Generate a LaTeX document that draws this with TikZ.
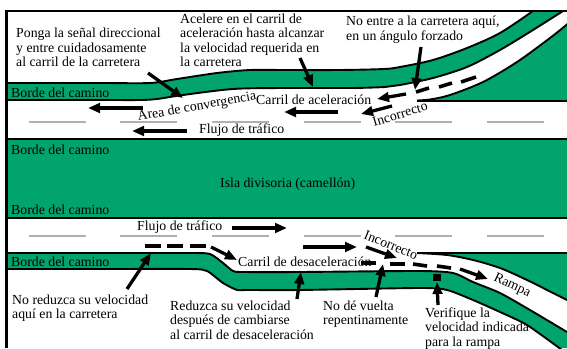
\documentclass[tikz,border=0pt]{standalone}
\usepackage{fontspec}
\setmainfont{Liberation Serif}
\usetikzlibrary{arrows.meta}
\definecolor{roadgreen}{HTML}{00A46C}
\definecolor{lanegray}{HTML}{B0B0B0}
\tikzset{
  txt/.style={anchor=north west,inner sep=0pt,align=left,font=\fontsize{13.8}{14.5}\selectfont},
  lab/.style={inner sep=0pt,font=\fontsize{13.8}{14.5}\selectfont},
  edge/.style={line width=1.9pt,black},
  lane/.style={line width=1.9pt,lanegray},
  arr/.style={line width=3.3pt,-{Triangle[length=12pt,width=9.5pt]},black},
  dsh/.style={line width=3.6pt,black},
}
\newcommand{\TopOuter}{plot[smooth,tension=0.5] coordinates {(6,83)(100,83)(150,83)(177,79)(217,73)(250,70)(284,70)(340,70)(384,69)(400,67)(433,60)(467,48)(500,33)(533,11)}}
\newcommand{\TopInner}{plot[smooth,tension=0.5] coordinates {(6,100)(100,100)(140,100)(157,99)(183,95)(233,89)(283,88)(351,88)(385,87)(400,85)(433,78)(467,67)(500,50)(533,30)(563,11)}}
\newcommand{\TopRamp}{plot[smooth,tension=0.5] coordinates {(417,100.5)(430,99.5)(450,95)(483,82)(517,62)(550,38)(570,22)}}
\newcommand{\LowUpper}{plot[smooth,tension=0.4] coordinates {(6,253)(100,253)(190,253)(210,254)(223,263)(233,271)(243,272)(300,272)(420,271)(453,273)(473,282)(500,293)(530,310)(567,332)}}
\newcommand{\LowLower}{plot[smooth,tension=0.4] coordinates {(6,269)(100,269)(190,269)(207,271)(223,283)(237,290)(247,290)(300,290)(420,288)(447,290)(473,300)(500,312)(527,325)(562,350)}}
\newcommand{\ExitEdge}{plot[smooth,tension=0.5] coordinates {(417,253)(447,255)(473,260)(500,268)(527,280)(553,293)(567,300)}}
\begin{document}
\begin{tikzpicture}[x=1pt,y=-1pt]
\clip (0,0) rectangle (567,348);
\fill[white] (0,0) rectangle (567,348);
% upper road
\fill[roadgreen] \TopOuter -- (567,11) -- (567,139) -- (6,139) -- cycle;
\fill[white] \TopInner -- (567,11) -- (567,139) -- (6,139) -- cycle;
\fill[roadgreen] \TopRamp -- (570,101) -- (417,101) -- cycle;
\draw[edge] \TopOuter;
\draw[edge] \TopInner;
\draw[edge] \TopRamp;
\draw[edge] (417,101) -- (567,101);
% island
\fill[roadgreen] (6,139) rectangle (567,218);
\draw[edge] (6,139) -- (567,139);
\draw[edge] (6,218) -- (567,218);
% lower road
\fill[roadgreen] \LowUpper -- (567,348) -- (6,348) -- cycle;
\fill[white] \LowLower -- (6,350) -- cycle;
\fill[roadgreen] \ExitEdge -- (567,253) -- cycle;
\draw[edge] \LowUpper;
\draw[edge] \LowLower;
\draw[edge] \ExitEdge;
\draw[edge] (417,253) -- (567,253);
% frame
\draw[line width=2.2pt,black] (6.5,348) -- (6.5,11) -- (567,11);
% lane markings
\foreach \y in {122,236}{
  \foreach \a/\b in {29/86,120/177,212/269,304/361,395/452,487/544}{
    \draw[lane] (\a,\y) -- (\b,\y);
  }
}
% labels
\node[txt] (ponga) at (16,28) {Ponga la señal direccional\\y entre cuidadosamente\\al carril de la carretera};
\node[txt] (acelere) at (180,13.5) {Acelere en el carril de\\aceleración hasta alcanzar\\la velocidad requerida en\\la carretera};
\node[txt] (noentre) at (346,16) {No entre a la carretera aquí,\\en un ángulo forzado};
\node[lab,anchor=west] (borde1) at (11,93) {Borde del camino};
\node[lab,anchor=west] (borde2) at (11,150) {Borde del camino};
\node[lab,anchor=west] (borde3) at (11,210) {Borde del camino};
\node[lab,anchor=west] (borde4) at (11,262) {Borde del camino};
\node[lab,anchor=west] (isla) at (220,184) {Isla divisoria (camellón)};
\node[lab,anchor=west] (flujo1) at (199,130) {Flujo de tráfico};
\node[lab,anchor=west] (flujo2) at (137,227) {Flujo de tráfico};
\node[lab,rotate=10] (area) at (197,107) {Area de convergencia};
\node[lab,anchor=west] (carrilA) at (256,100) {Carril de aceleración};
\node[lab,rotate=17] (inc1) at (400,114) {Incorrecto};
\node[lab,anchor=west] (carrilD) at (238,262) {Carril de desaceleración};
\node[lab,rotate=-22] (inc2) at (391,245) {Incorrecto};
\node[lab,rotate=-25] (rampa) at (512,286) {Rampa};
\node[txt] (noreduzca) at (12,294.5) {No reduzca su velocidad\\aquí en la carretera};
\node[txt] (reduzca) at (170,300.5) {Reduzca su velocidad\\después de cambiarse\\al carril de desaceleración};
\node[txt] (nodé) at (323,300.5) {No dé vuelta\\repentinamente};
\node[txt] (verifique) at (425,307.5) {Verifique la\\velocidad indicada\\para la rampa};
% arrows, upper road
\draw[arr] (148,73) -- (183,98);
\draw[arr] (300,58) -- (313,87);
\draw[arr] (421,47) -- (415,90);
\draw[arr] (143,108) -- (88,108);
\draw[arr] (187,131) -- (132,131);
\draw[arr] (338,112) -- (284,112);
\draw[arr] (406,94) -- (377,99);
\draw[arr] (392,106) -- (361,114);
\draw[dsh] (416,92) -- (429,88);
\draw[dsh] (439,87) -- (452,83);
\draw[dsh] (461,82) -- (476,77);
% arrows, lower road
\draw[arr] (232,228) -- (287,228);
\draw[arr] (303,247) -- (357,247);
\draw[arr] (366,247) -- (397,258);
\draw[arr] (211,247) -- (237,260);
\draw[arr] (127,289) -- (151,253);
\draw[arr] (297,299) -- (301,272);
\draw[arr] (376,297) -- (383,264);
\draw[arr] (438,305) -- (437,282);
\draw[arr] (460,269) -- (488,279);
\draw[dsh] (145,246) -- (161,246);
\draw[dsh] (167,246) -- (183,246);
\draw[dsh] (190,246) -- (206,246);
\draw[dsh] (361,263) -- (376,263);
\draw[dsh] (390,264) -- (405,264);
\draw[dsh] (413,264) -- (427,266);
\draw[dsh] (437,266) -- (451,268);
\fill[black] (433,274) rectangle (441,281);
\end{tikzpicture}
\end{document}
